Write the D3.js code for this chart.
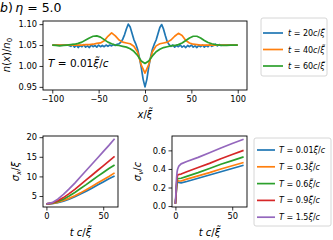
<!DOCTYPE html>
<html>
<head>
<meta charset="utf-8">
<script src="https://cdn.jsdelivr.net/npm/d3@7"></script>
<style>
body { margin: 0; background: #fff; }
text { font-family: "DejaVu Sans", sans-serif; fill: #000; }
</style>
</head>
<body>
<div id="chart"></div>
<script>
// ---- data ----
var xs20 = [-100,-98,-96,-94,-92,-90,-88,-86,-84,-82,-80,-78,-76,-74,-72,-70,-68,-66,-64,-62,-60,-58,-56,-54,-52,-50,-48,-46,-44,-42,-40,-38,-36,-34,-32,-30,-28,-26,-24,-22,-20,-18,-16,-14,-12,-10,-8,-6,-4,-2,0,2,4,6,8,10,12,14,16,18,20,22,24,26,28,30,32,34,36,38,40,42,44,46,48,50,52,54,56,58,60,62,64,66,68,70,72,74,76,78,80,82,84,86,88,90,92,94,96,98,100];
var n20 = [1.050,1.050,1.050,1.050,1.050,1.050,1.050,1.050,1.050,
  1.049,1.047,1.051,1.045,1.050,1.044,1.049,1.046,1.051,1.045,1.048,1.044,1.050,1.046,1.049,1.045,1.050,1.046,1.049,1.046,1.050,1.047,1.050,1.048,1.051,1.049,1.052,1.053,1.057,
  1.064,1.075,1.089,1.100,1.093,1.078,1.063,1.053,1.040,1.020,0.996,0.968,
  0.950,
  0.968,0.997,1.021,1.040,1.052,1.062,1.077,1.092,1.099,1.088,1.072,1.058,
  1.051,1.047,1.050,1.045,1.049,1.046,1.050,1.045,1.048,1.044,1.049,1.046,1.050,1.045,1.048,1.044,1.049,1.046,1.050,1.045,1.049,1.046,1.051,1.047,1.049,1.052,1.048,1.051,1.049,1.050,
  1.050,1.050,1.050,1.050,1.050,1.050,1.050,1.050];

var xs40 = [-100,-96,-92,-88,-84,-80,-76,-72,-68,-64,-60,-56,-52,-48,-44,-40,-36,-32,-28,-24,-20,-16,-12,-8,-4,0,4,8,12,16,20,24,28,32,36,40,44,48,52,56,60,64,68,72,76,80,84,88,92,96,100];
var n40 = [1.050,1.050,1.050,1.050,1.050,1.050,1.050,1.050,1.050,
  1.051,1.051,1.052,1.054,1.055,1.060,1.071,1.079,1.072,1.062,1.057,1.055,1.053,1.047,1.033,1.002,
  0.983,
  1.003,1.034,1.048,1.053,1.055,1.057,1.062,1.071,1.078,1.073,1.061,1.055,1.052,1.051,1.050,
  1.050,1.050,1.050,1.050,1.050,1.050,1.050,1.050,1.050,1.050];

var xs60 = xs40;
var n60 = [1.050,1.049,1.048,1.049,1.050,1.051,1.052,1.054,1.057,1.062,1.067,1.071,1.072,1.069,1.063,1.057,1.053,1.050,1.049,1.047,1.045,1.041,1.035,1.025,1.012,
  1.006,
  1.012,1.024,1.034,1.040,1.044,1.046,1.048,1.049,1.051,1.055,1.061,1.067,1.071,1.071,1.067,1.061,1.056,1.053,1.051,1.050,1.049,1.049,1.050,1.050,1.050];

var timeLabels = ["20", "40", "60"];

var tSx = [0,5,10,15,20,25,30,35,40,45,50,55,60];
var sx001 = [3.0,3.05,3.3,3.7,4.2,4.8,5.5,6.2,7.0,7.8,8.6,9.4,10.1];
var sx03  = [3.0,3.1,3.4,3.85,4.4,5.05,5.8,6.6,7.45,8.3,9.15,10.0,10.9];
var sx06  = [3.0,3.15,3.6,4.2,5.0,5.9,6.9,7.9,8.95,10.0,11.0,12.0,12.9];
var sx09  = [3.0,3.2,3.8,4.6,5.6,6.7,7.9,9.1,10.3,11.5,12.7,13.9,15.1];
var sx15  = [3.0,3.3,4.2,5.4,6.8,8.3,9.9,11.5,13.1,14.7,16.3,17.9,19.6];

var tSv = [0,0.5,1,1.5,2,3,5,10,20,30,40,50,60];
var sv001 = [0.025,0.10,0.20,0.25,0.26,0.255,0.25,0.265,0.30,0.335,0.37,0.405,0.44];
var sv03  = [0.025,0.10,0.21,0.26,0.275,0.27,0.27,0.29,0.325,0.36,0.40,0.435,0.47];
var sv06  = [0.025,0.11,0.22,0.28,0.295,0.297,0.30,0.32,0.36,0.405,0.45,0.49,0.53];
var sv09  = [0.025,0.12,0.24,0.31,0.335,0.34,0.345,0.37,0.415,0.46,0.51,0.555,0.60];
var sv15  = [0.025,0.15,0.30,0.37,0.40,0.43,0.455,0.48,0.525,0.575,0.625,0.675,0.72];

var tempLabels = ["0.01", "0.3", "0.6", "0.9", "1.5"];
var colors = ["#1f77b4", "#ff7f0e", "#2ca02c", "#d62728", "#9467bd"];

var xiT = "\u03be\u0303"; // xi with tilde

var svg = d3.select("#chart").append("svg")
  .attr("width", 333)
  .attr("height", 240);

// text with italic / subscript pieces, like matplotlib mathtext
function rich(sel, parts, size) {
  var shift = 0;
  parts.forEach(function (p) {
    var ts = sel.append("tspan").text(p[0]);
    var f = p[1] || "";
    var want = f.indexOf("s") >= 0 ? size * 0.22 : 0;
    if (want !== shift) { ts.attr("dy", want - shift); shift = want; }
    if (f.indexOf("i") >= 0) ts.attr("font-style", "italic");
    if (f.indexOf("s") >= 0) ts.attr("font-size", size * 0.7);
  });
  return sel;
}

function makeAxes(box, xDom, yDom, xTicks, yTicks, yFmt) {
  var g = svg.append("g");
  var x = d3.scaleLinear().domain(xDom).range([box.left, box.right]);
  var y = d3.scaleLinear().domain(yDom).range([box.bottom, box.top]);
  var ax = g.append("g")
    .attr("transform", "translate(0," + box.bottom + ")")
    .call(d3.axisBottom(x).tickValues(xTicks).tickSize(3.5).tickPadding(2.5).tickSizeOuter(0)
      .tickFormat(function (d) { return d < 0 ? "\u2212" + (-d) : d; }));
  var ay = g.append("g")
    .attr("transform", "translate(" + box.left + ",0)")
    .call(d3.axisLeft(y).tickValues(yTicks).tickSize(3.5).tickPadding(2.5).tickSizeOuter(0)
      .tickFormat(yFmt));
  [ax, ay].forEach(function (a) {
    a.select(".domain").remove();
    a.attr("font-family", null).attr("font-size", null);
    a.selectAll("line").attr("stroke", "#000").attr("stroke-width", 0.8);
    a.selectAll("text").attr("font-size", 8.3).attr("fill", "#222");
  });
  var clip = "clip" + Math.round(box.left) + Math.round(box.top);
  svg.append("clipPath").attr("id", clip).append("rect")
    .attr("x", box.left).attr("y", box.top)
    .attr("width", box.right - box.left).attr("height", box.bottom - box.top);
  var plot = g.append("g").attr("clip-path", "url(#" + clip + ")");
  g.append("rect")
    .attr("x", box.left).attr("y", box.top)
    .attr("width", box.right - box.left).attr("height", box.bottom - box.top)
    .attr("fill", "none").attr("stroke", "#000").attr("stroke-width", 0.9);
  return { g: g, plot: plot, x: x, y: y };
}

function drawLine(ax, xs, ys, color) {
  var line = d3.line()
    .x(function (d, i) { return ax.x(xs[i]); })
    .y(function (d) { return ax.y(d); });
  ax.plot.append("path")
    .datum(ys)
    .attr("d", line)
    .attr("fill", "none")
    .attr("stroke", color)
    .attr("stroke-width", 1.7)
    .attr("stroke-linejoin", "round");
}

// ---- title ----
rich(svg.append("text").attr("x", 0).attr("y", 12).attr("font-size", 12.5),
  [["b", "i"], [")\u2009"], ["\u03b7", "i"], [" = 5.0"]], 12.5);

// ---- top panel: density profiles ----
var dens = makeAxes({ left: 43, right: 247, top: 21, bottom: 90 },
  [-110, 110], [0.9425, 1.1075],
  [-100, -50, 0, 50, 100], [0.95, 1.00, 1.05, 1.10], d3.format(".2f"));

drawLine(dens, xs20, n20, colors[0]);
drawLine(dens, xs40, n40, colors[1]);
drawLine(dens, xs60, n60, colors[2]);

rich(svg.append("text").attr("x", 48).attr("y", 67).attr("font-size", 10.5),
  [["T", "i"], [" = 0.01"], [xiT, "i"], ["/"], ["c", "i"]], 10.5);

rich(svg.append("text").attr("transform", "translate(10,55) rotate(-90)")
  .attr("text-anchor", "middle").attr("font-size", 10),
  [["n", "i"], ["("], ["x", "i"], [")/"], ["n", "i"], ["0", "s"]], 10);

rich(svg.append("text").attr("x", 145).attr("y", 118)
  .attr("text-anchor", "middle").attr("font-size", 10),
  [["x", "i"], ["/"], [xiT, "i"]], 10);

// top legend
var lgTop = svg.append("g");
lgTop.append("rect").attr("x", 261).attr("y", 18).attr("width", 66).attr("height", 58)
  .attr("rx", 2).attr("fill", "#fff").attr("fill-opacity", 0.8)
  .attr("stroke", "#ccc").attr("stroke-width", 0.8);
timeLabels.forEach(function (lab, i) {
  var yy = 33 + i * 16.5;
  lgTop.append("line").attr("x1", 263).attr("x2", 283).attr("y1", yy).attr("y2", yy)
    .attr("stroke", colors[i]).attr("stroke-width", 1.7);
  rich(lgTop.append("text").attr("x", 288).attr("y", yy + 3).attr("font-size", 8),
    [["t", "i"], [" = " + lab], ["c", "i"], ["/"], [xiT, "i"]], 8);
});

// ---- bottom left: sigma_x ----
var bl = makeAxes({ left: 43, right: 118, top: 136, bottom: 207 },
  [-3, 63], [2.2, 20.3], [0, 50], [5, 10, 15, 20], d3.format("d"));
[sx001, sx03, sx06, sx09, sx15].forEach(function (s, i) { drawLine(bl, tSx, s, colors[i]); });

rich(svg.append("text").attr("transform", "translate(19,171.5) rotate(-90)")
  .attr("text-anchor", "middle").attr("font-size", 10),
  [["\u03c3", "i"], ["x", "is"], ["/"], ["\u03be", "i"]], 10);
rich(svg.append("text").attr("x", 80.5).attr("y", 236)
  .attr("text-anchor", "middle").attr("font-size", 10),
  [["t", "i"], [" "], ["c", "i"], ["/"], [xiT, "i"]], 10);

// ---- bottom right: sigma_v ----
var br = makeAxes({ left: 172, right: 247, top: 136, bottom: 207 },
  [-3, 63], [-0.01, 0.755], [0, 50], [0.0, 0.2, 0.4, 0.6], d3.format(".1f"));
[sv001, sv03, sv06, sv09, sv15].forEach(function (s, i) { drawLine(br, tSv, s, colors[i]); });

rich(svg.append("text").attr("transform", "translate(141,171.5) rotate(-90)")
  .attr("text-anchor", "middle").attr("font-size", 10),
  [["\u03c3", "i"], ["v", "is"], ["/"], ["c", "i"]], 10);
rich(svg.append("text").attr("x", 209.5).attr("y", 236)
  .attr("text-anchor", "middle").attr("font-size", 10),
  [["t", "i"], [" "], ["c", "i"], ["/"], [xiT, "i"]], 10);

// bottom legend
var lgBot = svg.append("g");
lgBot.append("rect").attr("x", 254).attr("y", 138).attr("width", 77).attr("height", 88)
  .attr("rx", 2).attr("fill", "#fff").attr("fill-opacity", 0.8)
  .attr("stroke", "#ccc").attr("stroke-width", 0.8);
tempLabels.forEach(function (lab, i) {
  var yy = 150 + i * 16.8;
  lgBot.append("line").attr("x1", 257).attr("x2", 275).attr("y1", yy).attr("y2", yy)
    .attr("stroke", colors[i]).attr("stroke-width", 1.7);
  rich(lgBot.append("text").attr("x", 279).attr("y", yy + 3).attr("font-size", 8),
    [["T", "i"], [" = " + lab], [xiT, "i"], ["/"], ["c", "i"]], 8);
});
</script>
</body>
</html>
